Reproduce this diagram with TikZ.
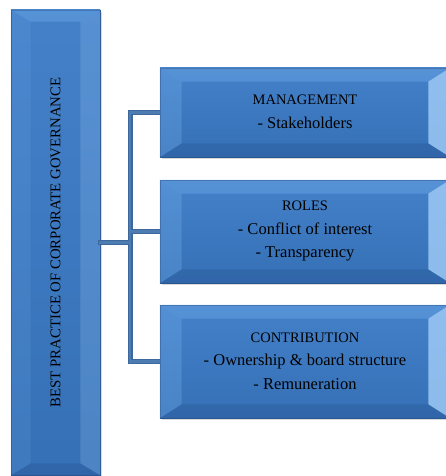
\documentclass[tikz,border=0pt]{standalone}
\usepackage{fontspec}
\setmainfont{Liberation Serif}
\usetikzlibrary{calc,shadows}
\definecolor{boxblue}{RGB}{58,122,198}
\definecolor{boxdark}{RGB}{40,86,146}
\definecolor{boxlight}{RGB}{120,178,240}
\definecolor{boxpale}{RGB}{170,212,252}
\definecolor{linkblue}{RGB}{60,104,156}
\definecolor{linkin}{RGB}{76,124,178}
\newcommand{\capline}[1]{{\fontsize{14.5}{23.5}\selectfont #1}}
\tikzset{
  bluebox/.style={draw=boxdark, line width=0.8pt, top color=boxblue!95!white, bottom color=boxblue!92!black,
    minimum width=#1, inner sep=0pt,
    drop shadow={shadow xshift=1.5pt, shadow yshift=-2pt, opacity=0.3}},
  boxtext/.style={align=center, inner sep=0pt, font=\fontsize{16.5}{23.5}\selectfont},
  link/.style={line width=5pt, draw=linkblue},
  linkcore/.style={line width=2.6pt, draw=linkin},
}
\newcommand{\bevelbox}[5]{% name, inset x, inset y, left opacity, right opacity
  \fill[boxlight, opacity=0.35] (#1.north west) -- (#1.north east) -- ($(#1.north east)+(-#2,#3)$) -- ($(#1.north west)+(#2,#3)$) -- cycle;
  \fill[boxlight, opacity=#4] (#1.north west) -- ($(#1.north west)+(#2,#3)$) -- ($(#1.south west)+(#2,-#3)$) -- (#1.south west) -- cycle;
  \fill[boxpale, opacity=#5] (#1.north east) -- ($(#1.north east)+(-#2,#3)$) -- ($(#1.south east)+(-#2,-#3)$) -- (#1.south east) -- cycle;
  \fill[boxdark, opacity=0.35] (#1.south west) -- ($(#1.south west)+(#2,-#3)$) -- ($(#1.south east)+(-#2,-#3)$) -- (#1.south east) -- cycle;
}
\begin{document}
\begin{tikzpicture}[x=1pt,y=-1pt]
\useasboundingbox (0,0) rectangle (446,476);
% main box
\node[bluebox=89pt, minimum height=465pt] (main) at (55.5,242.5) {};
\bevelbox{main}{20}{12}{0.15}{0.2}
\node[rotate=90, font=\fontsize{14.8}{16}\selectfont] (title) at (main.center) {BEST PRACTICE OF CORPORATE GOVERNANCE};
% right boxes
\node[bluebox=290pt, minimum height=89pt] (b1) at (305,112.5) {};
\node[bluebox=290pt, minimum height=103pt] (b2) at (305,231.5) {};
\node[bluebox=290pt, minimum height=113pt] (b3) at (305,361.5) {};
\bevelbox{b1}{22}{14}{0.3}{0.75}
\bevelbox{b2}{22}{14}{0.3}{0.75}
\bevelbox{b3}{22}{14}{0.3}{0.75}
\node[boxtext] (t1) at (305,112) {\capline{MANAGEMENT}\\- Stakeholders};
\node[boxtext] (t2) at (305,231) {\capline{ROLES}\\- Conflict of interest\\- Transparency};
\node[boxtext] (t3) at (305,361) {\capline{CONTRIBUTION}\\- Ownership \& board structure\\- Remuneration};
% connectors
\coordinate (j) at (130,242.5);
\foreach \s in {link,linkcore}{
  \draw[\s, line cap=rect] (main.east) -- (j);
  \draw[\s, line cap=rect] (j|-b1.west) -- (j|-b3.west);
  \draw[\s] (j|-b1.west) -- (b1.west);
  \draw[\s] (j|-b2.west) -- (b2.west);
  \draw[\s] (j|-b3.west) -- (b3.west);
}
\end{tikzpicture}
\end{document}
